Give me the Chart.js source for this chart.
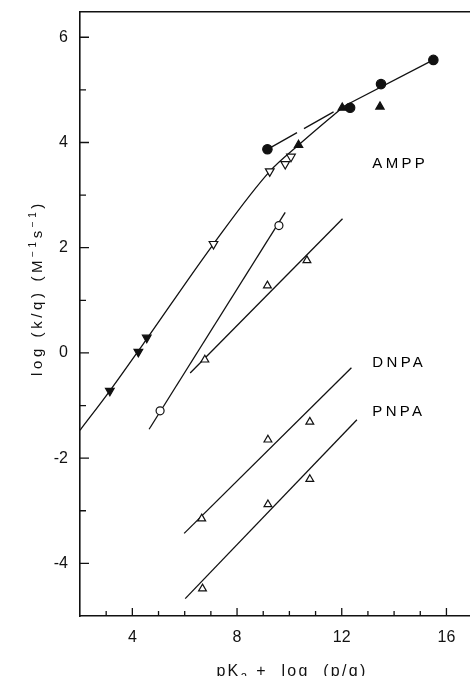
<!DOCTYPE html>
<html>
<head>
<meta charset="utf-8">
<script src="https://cdn.jsdelivr.net/npm/chart.js@4.4.0/dist/chart.umd.min.js"></script>
<style>
    html, body { margin: 0; padding: 0; background: #fff; }
</style>
</head>
<body>
<canvas id="chart" width="470" height="676"></canvas>
<script>
// Points, [x, y] = [pKa + log(p/q), log(k/q)]
const amppCircles    = [[9.16, 3.87], [12.32, 4.66], [13.5, 5.11], [15.5, 5.57]];
const amppTriangles  = [[10.35, 3.95], [12.02, 4.66], [13.46, 4.68]];
const amppOpenDown   = [[7.1, 2.07], [9.25, 3.45], [9.84, 3.59], [10.06, 3.73]];
const amppFilledDown = [[3.14, -0.72], [4.23, 0.02], [4.55, 0.29]];
const openCircles    = [[5.06, -1.1], [9.6, 2.42]];
const openUp         = [[6.77, -0.13], [9.16, 1.28], [10.67, 1.76]];
const dnpaPoints     = [[6.65, -3.15], [9.18, -1.65], [10.78, -1.31]];
const pnpaPoints     = [[6.68, -4.48], [9.18, -2.88], [10.78, -2.4]];

// Drawn lines
const amppCurve   = [[2.0, -1.47], [3.14, -0.72], [4.4, 0.16], [7.1, 2.07], [9.25, 3.45], [10.35, 3.95], [12.02, 4.66]];
const amppUpper   = [[9.16, 3.87], [11.97, 4.66], [15.5, 5.57]];
const circleLine  = [[4.64, -1.45], [9.84, 2.67]];
const openUpLine  = [[6.21, -0.38], [12.03, 2.55]];
const dnpaLine    = [[5.98, -3.43], [12.37, -0.28]];
const pnpaLine    = [[6.02, -4.67], [12.58, -1.27]];

// Axis ticks
const xTicks = [2, 3, 4, 5, 6, 7, 8, 9, 10, 11, 12, 13, 14, 15, 16];
const xLabels = [4, 8, 12, 16];
const yLabels = [-4, -2, 0, 2, 4, 6];

// Curve labels
const curveNames = ['AMPP', 'DNPA', 'PNPA'];
const curveNameAt = [[13.17, 3.59], [13.17, -0.18], [13.17, -1.12]];

const ink = '#111';
const FONT = '"Liberation Sans", Arial, sans-serif';

const xy = arr => arr.map(p => ({ x: p[0], y: p[1] }));

function markers(data, style, filled, rotation, radius) {
    return {
        data: xy(data),
        showLine: false,
        pointStyle: style,
        pointRotation: rotation || 0,
        pointRadius: radius,
        pointBorderWidth: 1.2,
        pointBorderColor: ink,
        pointBackgroundColor: filled ? ink : '#fff'
    };
}

function line(data, extra) {
    return Object.assign({
        data: xy(data),
        showLine: true,
        pointRadius: 0,
        borderColor: ink,
        borderWidth: 1.3,
        tension: 0
    }, extra || {});
}

function drawRuns(ctx, runs, x, y) {
    // runs: [text, size, dy] - drawn centred on x
    let total = 0;
    runs.forEach(r => {
        ctx.font = r[1] + 'px ' + FONT;
        total += ctx.measureText(r[0]).width;
    });
    let cx = x - total / 2;
    runs.forEach(r => {
        ctx.font = r[1] + 'px ' + FONT;
        ctx.fillText(r[0], cx, y + r[2]);
        cx += ctx.measureText(r[0]).width;
    });
}

// keep the plot area where the figure has it: no extra room for edge labels
function noEdgePadding(s) {
    s.paddingTop = 0;
    s.paddingBottom = 0;
    s.paddingLeft = 0;
    s.paddingRight = 0;
}

const decorations = {
    id: 'decorations',
    afterDraw(chart) {
        const { ctx, chartArea: a, scales: { x, y } } = chart;
        ctx.save();

        // inward tick marks
        ctx.strokeStyle = ink;
        ctx.lineWidth = 1.3;
        ctx.beginPath();
        x.ticks.forEach(t => {
            if (!Number.isInteger(t.value) || t.value <= x.min) return;
            const px = x.getPixelForValue(t.value);
            const len = xLabels.includes(t.value) ? 8 : 5;
            ctx.moveTo(px, a.bottom);
            ctx.lineTo(px, a.bottom - len);
        });
        y.ticks.forEach(t => {
            if (!Number.isInteger(t.value) || t.value <= y.min) return;
            const py = y.getPixelForValue(t.value);
            const len = yLabels.includes(t.value) ? 9 : 6;
            ctx.moveTo(a.left, py);
            ctx.lineTo(a.left + len, py);
        });
        ctx.stroke();

        // curve names
        ctx.fillStyle = '#000';
        ctx.textAlign = 'left';
        ctx.textBaseline = 'middle';
        ctx.font = '15px ' + FONT;
        ctx.letterSpacing = '3.3px';
        curveNames.forEach((name, i) => {
            ctx.fillText(name, x.getPixelForValue(curveNameAt[i][0]), y.getPixelForValue(curveNameAt[i][1]));
        });

        // axis titles
        ctx.fillStyle = ink;
        ctx.textBaseline = 'alphabetic';
        ctx.letterSpacing = '2.3px';
        drawRuns(ctx, [['pK', 16, 0], ['a', 12, 4], [' +  log  (p/q)', 16, 0]], 292, 676);

        ctx.translate(37, 288);
        ctx.rotate(-Math.PI / 2);
        ctx.letterSpacing = '3.6px';
        drawRuns(ctx, [['log (k/q) (M', 15, 0], ['\u22121', 10, -6], ['s', 15, 0], ['\u22121', 10, -6], [')', 15, 0]], 0, 5);

        ctx.restore();
    }
};

new Chart(document.getElementById('chart'), {
    type: 'scatter',
    data: {
        datasets: [
            markers(amppCircles, 'circle', true, 0, 4.7),
            markers(amppTriangles, 'triangle', true, 0, 4.8),
            markers(amppOpenDown, 'triangle', false, 180, 5),
            markers(amppFilledDown, 'triangle', true, 180, 5),
            markers(openCircles, 'circle', false, 0, 4),
            markers(openUp, 'triangle', false, 0, 4.5),
            markers(dnpaPoints, 'triangle', false, 0, 4.5),
            markers(pnpaPoints, 'triangle', false, 0, 4.5),
            line(amppCurve, { cubicInterpolationMode: 'monotone' }),
            line(amppUpper, { segment: { borderDash: c => c.p0DataIndex === 0 ? [34, 8] : undefined } }),
            line(circleLine),
            line(openUpLine),
            line(dnpaLine),
            line(pnpaLine)
        ]
    },
    options: {
        responsive: false,
        devicePixelRatio: 1,
        animation: false,
        layout: { autoPadding: false, padding: { top: 12, right: 0, bottom: 0, left: 0 } },
        plugins: { legend: { display: false }, tooltip: { enabled: false } },
        scales: {
            x: {
                type: 'linear',
                position: 'bottom',
                min: 2,
                max: 16.9,
                grid: { display: false, drawTicks: false },
                border: { display: true, color: ink, width: 1.6 },
                ticks: {
                    padding: 12,
                    color: ink,
                    font: { family: FONT, size: 16 },
                    maxRotation: 0,
                    autoSkip: false,
                    callback: v => xLabels.includes(v) ? String(v) : ''
                },
                afterBuildTicks: s => {
                    s.ticks = xTicks.map(v => ({ value: v })).concat([{ value: s.max }]);
                },
                afterFit: s => { s.height = 60; noEdgePadding(s); }
            },
            x2: {
                type: 'linear',
                axis: 'x',
                position: 'top',
                min: 2,
                max: 16.9,
                grid: { display: false, drawTicks: false },
                border: { display: true, color: ink, width: 1.6 },
                ticks: { display: false },
                afterFit: s => { s.height = 0; noEdgePadding(s); }
            },
            y: {
                type: 'linear',
                min: -5,
                max: 6.48,
                grid: { display: false, drawTicks: false },
                border: { display: true, color: ink, width: 1.6 },
                ticks: {
                    stepSize: 1,
                    padding: 12,
                    color: ink,
                    font: { family: FONT, size: 16 },
                    autoSkip: false,
                    callback: v => yLabels.includes(v) ? String(v) : ''
                },
                afterFit: s => { s.width = 80; noEdgePadding(s); }
            }
        }
    },
    plugins: [decorations]
});
</script>
</body>
</html>
